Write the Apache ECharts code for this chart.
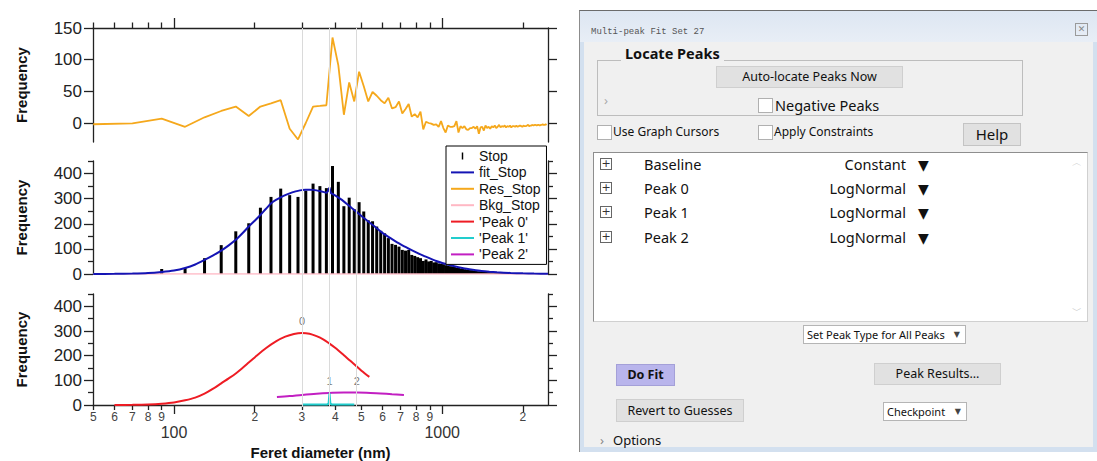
<!DOCTYPE html>
<html lang="en">
<head>
<meta charset="UTF-8">
<title>Multi-peak Fit Set 27</title>
<script src="https://cdn.jsdelivr.net/npm/echarts@6.0.0/dist/echarts.min.js"></script>
<style>
body{margin:0;background:#fff;width:1097px;height:461px;overflow:hidden;position:relative;font-family:"Noto Sans",sans-serif;color:#111;}
#main{position:absolute;left:0;top:0;width:578px;height:461px;}
.a{position:absolute;white-space:nowrap;}
.btn{position:absolute;white-space:nowrap;background:#e1e1e1;border:1px solid #cfcfcf;box-sizing:border-box;text-align:center;font-size:12.5px;}
.chk{position:absolute;width:15px;height:15px;background:#fff;border:1px solid #b0b0b0;box-sizing:border-box;}
.pop{position:absolute;white-space:nowrap;background:#fff;border:1px solid #b5b5b5;box-sizing:border-box;font-size:11px;padding-left:3px;}
.pop span{position:absolute;right:5px;top:0;font:8px/17px "DejaVu Sans",sans-serif;color:#444;}
.plus{position:absolute;width:12px;height:12px;border:1px solid #666;box-sizing:border-box;font:11px/9px "DejaVu Sans",sans-serif;text-align:center;color:#333;}
.row{position:absolute;font-size:14.5px;line-height:20px;white-space:nowrap;}
.tri{position:absolute;font:14px/20px "DejaVu Sans",sans-serif;}
</style>
</head>
<body>
<div id="main"></div>

<!-- dialog -->
<div class="a" style="left:579px;top:10px;width:518px;height:442px;background:#d3e0ef;border-top:1px solid #6b6b6b;border-left:1px solid #8c8c8c;box-sizing:border-box;"></div>
<div class="a" style="left:580px;top:11px;width:517px;height:31px;background:linear-gradient(#dde6f2,#e8eef6);"></div>
<div class="a" style="left:584px;top:42px;width:509px;height:405px;background:#f0f0f0;"></div>
<div class="a" style="left:591px;top:27px;font:9px/10px 'Liberation Mono',monospace;color:#555;">Multi-peak Fit Set 27</div>
<div class="a" style="left:1075px;top:23px;width:13px;height:13px;border:1px solid #9a9a9a;box-sizing:border-box;font:9px/11px 'DejaVu Sans',sans-serif;text-align:center;color:#888;">✕</div>

<div class="a" style="left:597px;top:60px;width:426px;height:56px;border:1px solid #bdbdbd;box-sizing:border-box;"></div>
<div class="a" style="left:621px;top:43px;padding:0 4px;background:#f0f0f0;font-weight:bold;font-size:14.5px;line-height:20px;">Locate Peaks</div>
<div class="btn" style="left:716px;top:66px;width:187px;height:22px;line-height:20px;">Auto-locate Peaks Now</div>
<div class="a" style="left:604px;top:92px;font-size:13px;line-height:16px;color:#aaa;">›</div>
<div class="chk" style="left:758px;top:98px;"></div>
<div class="a" style="left:775px;top:95px;font-size:14.5px;line-height:20px;">Negative Peaks</div>

<div class="chk" style="left:597px;top:125px;"></div>
<div class="a" style="left:613px;top:123px;font-size:12px;line-height:18px;">Use Graph Cursors</div>
<div class="chk" style="left:758px;top:125px;"></div>
<div class="a" style="left:774px;top:123px;font-size:12px;line-height:18px;">Apply Constraints</div>
<div class="btn" style="left:963px;top:123px;width:58px;height:23px;line-height:21px;font-size:15px;border-color:#c4c4c4;">Help</div>

<div class="a" style="left:593px;top:152px;width:495px;height:170px;background:#fff;border:1px solid #8e8e8e;border-right-color:#d0d0d0;border-bottom-color:#d0d0d0;box-sizing:border-box;"></div>
<div class="a" style="left:1072px;top:157px;font:10px/12px 'DejaVu Sans',sans-serif;color:#c8c8c8;">︿</div>
<div class="a" style="left:1072px;top:305px;font:10px/12px 'DejaVu Sans',sans-serif;color:#c8c8c8;">﹀</div>

<div class="plus" style="left:600px;top:158px;">+</div>
<div class="row" style="left:644px;top:154px;">Baseline</div>
<div class="row" style="left:760px;top:154px;width:146px;text-align:right;">Constant</div>
<div class="tri" style="left:918px;top:155px;">▼</div>
<div class="plus" style="left:600px;top:182px;">+</div>
<div class="row" style="left:644px;top:178px;">Peak 0</div>
<div class="row" style="left:760px;top:178px;width:146px;text-align:right;">LogNormal</div>
<div class="tri" style="left:918px;top:179px;">▼</div>
<div class="plus" style="left:600px;top:206px;">+</div>
<div class="row" style="left:644px;top:202px;">Peak 1</div>
<div class="row" style="left:760px;top:202px;width:146px;text-align:right;">LogNormal</div>
<div class="tri" style="left:918px;top:203px;">▼</div>
<div class="plus" style="left:600px;top:231px;">+</div>
<div class="row" style="left:644px;top:227px;">Peak 2</div>
<div class="row" style="left:760px;top:227px;width:146px;text-align:right;">LogNormal</div>
<div class="tri" style="left:918px;top:228px;">▼</div>

<div class="pop" style="left:803px;top:325px;width:163px;height:19px;line-height:17px;">Set Peak Type for All Peaks<span>▼</span></div>
<div class="btn" style="left:616px;top:364px;width:59px;height:22px;line-height:20px;background:#b9b5ec;border-color:#a4a0d8;font-weight:bold;">Do Fit</div>
<div class="btn" style="left:874px;top:363px;width:127px;height:22px;line-height:20px;">Peak Results...</div>
<div class="btn" style="left:616px;top:399px;width:128px;height:23px;line-height:21px;">Revert to Guesses</div>
<div class="pop" style="left:883px;top:402px;width:84px;height:19px;line-height:17px;">Checkpoint<span>▼</span></div>
<div class="a" style="left:600px;top:431px;font-size:13px;line-height:18px;color:#888;">›</div>
<div class="a" style="left:613px;top:431px;font-size:13px;line-height:18px;">Options</div>

<script type="text/javascript">
// feret diameter bins (nm) and counts
var diameter = [50,70,90,110,130,150,170,190,210,230,250,270,290,310,330,350,370,390,410,430,
  450,470,490,510,530,550,570,590,610,630,650,670,690,710,730,750,770,790,810,830,
  850,870,890,910,930,950,970,990,1010,1030,1050,1070,1090,1110,1130,1150,1170,1190,1210,1230,
  1250,1270,1290,1310,1330,1350,1370,1390,1410,1430,1450,1470,1490,1510,1530,1550,1570,1590,1610,1630,
  1650,1670,1690,1710,1730,1750,1770,1790,1810,1830,1850,1870,1890,1910,1930,1950,1970,1990,2010,2030,
  2050,2070,2090,2110,2130,2150,2170,2190,2210,2230,2250,2270,2290,2310,2330,2350,2370,2390,2410,2430,2450];
var stopCounts = [0,0,20,24,63,115,170,202,264,307,
  340,314,307,332,360,350,342,430,367,270,
  304,258,286,249,214,210,189,172,162,143,
  120,116,109,96,93,96,76,72,67,63,
  52,58,50,52,46,47,42,40,39,35,
  34,31,30,28,25,24,22,21,19,18,
  16,15,15,13,12,11,10,10,9,8,
  8,7,7,6,6,6,5,5,4,5,
  4,4,3,3,3,3,2,3,2,2,
  2,2,1,2,1,1,1,1,1,1,
  1,0,1,0,1,0,1,0,0,1,
  0,0,0,1,0,0,0,0,0,0,0];
var resStop = [-2,-0.5,7,-6,9,19,26,11,26,31,
  36,-9,-26,0,26,27,28,135,91,13,
  64,34,81,58,34,49,43,36,31,40,
  23,25,34,15,22,30,10,14,9,18,
  -10,2,0,-1,-3,-2,-6,3,-8,-15,
  -4,-6,-6,-5,3,-15,-5,-8,-5,-10,
  -11,-8,-8,-6,-9,-5,-17,-7,-6,-12,
  -4,-8,-6,-9,-5,-7,-4,-8,-6,-3,
  -7,-5,-6,-4,-7,-5,-6,-4,-7,-5,
  -5,-6,-4,-6,-5,-4,-5,-6,-4,-5,
  -5,-4,-3,-5,-4,-4,-3,-4,-3,-3,
  -4,-3,-3,-4,-3,-3,-2,-3,-3,-2,-3];

var fitX = [50,60,70,80,90,100,110,120,130,140,150,160,170,180,190,200,210,220,230,240,
  250,260,270,280,290,300,310,320,330,340,350,360,370,375,378,380,382,385,390,
  400,420,440,460,480,500,530,560,600,650,700,750,800,850,900,950,1000,
  1100,1200,1300,1400,1500,1600,1800,2000,2200,2480];
var fitY = [0,0.5,1.5,3.5,8,14,24,38,56,74,93,114,136,162,189,212,235,259,281,295,
  305,314,321,327,331,334,336,336,335,333,330,327,324,330,338,344,333,322,319,
  312,297,280,263,247,231,209,189,163,139,118,101,86,73,62,52,44,
  32,23,17,12,9,7,4,2.5,1.5,1];

var peak0X = [60,70,80,90,100,110,120,130,140,150,160,170,180,190,200,220,240,260,280,300,
  320,340,360,380,400,430,460,500,535];
var peak0Y = [0.2,0.7,2,5,10,19,30,46,66,88,108,128,150,172,193,230,258,277,288,292,
  289,279,266,249,231,202,174,139,114];
var peak1X = [300,372,377,380,383,388,470];
var peak1Y = [2,2,5,48,5,2,2];
var peak2X = [242,270,300,340,380,430,483,540,590,650,720];
var peak2Y = [32,36,41,46,49,51,51,49,47,44,41];

var peakPos = [300, 380, 480];
var peakTagY = [292, 49, 51];
var peakTags = ['0', '1', '2'];

var xMinor = [50,60,70,80,90,300,400,500,600,700,800,900];
var xMajor = [100,1000];
var xMid = [200,2000];
var xSmallLabels = [50,60,70,80,90,200,300,400,500,600,700,800,900,2000];
var resTicks = [0,50,100,150];
var freqTicks = [0,100,200,300,400];
var freqMinor = [50,150,250,350,450];

var xMin = 49.9, xMax = 2480;
var font = 'Liberation Sans';

function zip(xs, ys){
	return xs.map(function(x, i){ return [x, ys[i]]; });
}

var myChart = echarts.init(document.getElementById('main'), null, {renderer: 'svg'});

var lineCol = '#222';
var axLine = {show: true, onZero: false, lineStyle: {color: lineCol, width: 1.3}};
var noLine = {show: false, onZero: false};
function xAx(grid, pos, ticks, len, extra){
	var o = {
		type: 'log', gridIndex: grid, position: pos, min: xMin, max: xMax, logBase: 10,
		axisLine: noLine,
		axisTick: {show: !!ticks, customValues: ticks || [], length: len, lineStyle: {color: lineCol, width: 1.3}},
		axisLabel: {show: false},
		splitLine: {show: false}, minorTick: {show: false}, minorSplitLine: {show: false}
	};
	return Object.assign(o, extra || {});
}
function yAx(grid, pos, min, max, ticks, len, extra){
	var o = {
		type: 'value', gridIndex: grid, position: pos, min: min, max: max,
		axisLine: noLine,
		axisTick: {show: true, customValues: ticks, length: len, lineStyle: {color: lineCol, width: 1.3}},
		axisLabel: {show: false},
		splitLine: {show: false}
	};
	return Object.assign(o, extra || {});
}
var yLab = {show: true, customValues: null, margin: 11, fontSize: 17, color: '#222', fontFamily: font};
function leftMain(grid, min, max, ticks){
	return yAx(grid, 'left', min, max, ticks, 9, {
		axisLine: axLine,
		axisLabel: Object.assign({}, yLab, {customValues: ticks}),
		name: 'Frequency', nameLocation: 'middle', nameGap: 64, nameRotate: 90,
		nameTextStyle: {fontFamily: font, fontWeight: 'bold', fontSize: 15, color: '#111'}
	});
}
function rightMain(grid, min, max, ticks){
	return yAx(grid, 'right', min, max, ticks, 9, {axisLine: axLine});
}

var option = {
	animation: false,
	textStyle: {fontFamily: font},
	grid: [
		{left: 93, top: 28, width: 455, height: 114},
		{left: 93, top: 161, width: 455, height: 113},
		{left: 93, top: 294, width: 455, height: 113},
		{left: 93, top: 28, width: 455, height: 379}
	],
	legend: {
		orient: 'vertical', left: 446, top: 146,
		padding: [3, 6, 3, 5], itemGap: 2.4, itemWidth: 23, itemHeight: 13,
		borderColor: '#000', borderWidth: 1, backgroundColor: '#fff',
		textStyle: {fontFamily: font, fontSize: 14, color: '#111'},
		selectedMode: false,
		data: [
			{name: 'Stop', icon: 'path://M0,0h0.01v0.01zM0,2h1v5h-1zM0,9h0.01v0.01z'},
			{name: 'fit_Stop', icon: 'path://M0,0h23v2h-23z'},
			{name: 'Res_Stop', icon: 'path://M0,0h23v2h-23z'},
			{name: 'Bkg_Stop', icon: 'path://M0,0h23v2h-23z'},
			{name: "'Peak 0'", icon: 'path://M0,0h23v2h-23z'},
			{name: "'Peak 1'", icon: 'path://M0,0h23v2h-23z'},
			{name: "'Peak 2'", icon: 'path://M0,0h23v2h-23z'}
		]
	},
	xAxis: [
		xAx(0, 'top', xMinor.concat(xMid), 5.5, {axisLine: axLine}),
		xAx(0, 'top', xMajor, 10),
		xAx(1, 'bottom', null, 0, {show: false}),
		xAx(2, 'bottom', xMinor, 5, {
			axisLine: axLine,
			axisLabel: {show: true, customValues: xSmallLabels, margin: 6, fontSize: 12, color: '#444', fontFamily: font,
				formatter: function(v){ return String(Math.round(v)).charAt(0); }},
			name: 'Feret diameter (nm)', nameLocation: 'middle', nameGap: 40,
			nameTextStyle: {fontFamily: font, fontWeight: 'bold', fontSize: 15, color: '#111'}
		}),
		xAx(2, 'bottom', xMajor, 9, {
			axisLabel: {show: true, customValues: xMajor, margin: 19, fontSize: 16, color: '#333', fontFamily: font,
				formatter: function(v){ return String(Math.round(v)); }}
		}),
		xAx(2, 'bottom', xMid, 7),
		xAx(3, 'bottom', null, 0, {show: false})
	],
	yAxis: [
		leftMain(0, -30, 150, resTicks),
		rightMain(0, -30, 150, resTicks),
		leftMain(1, 0, 450, freqTicks),
		yAx(1, 'left', 0, 450, freqMinor, 5),
		rightMain(1, 0, 450, freqTicks),
		yAx(1, 'right', 0, 450, freqMinor, 5),
		leftMain(2, 0, 450, freqTicks),
		yAx(2, 'left', 0, 450, freqMinor, 5),
		rightMain(2, 0, 450, freqTicks),
		yAx(2, 'right', 0, 450, freqMinor, 5),
		{type: 'value', gridIndex: 3, min: 0, max: 1, show: false}
	],
	series: [
		{
			name: 'guides', type: 'line', xAxisIndex: 6, yAxisIndex: 10, data: [], z: 0,
			markLine: {
				silent: true, symbol: ['none', 'none'], label: {show: false},
				lineStyle: {color: '#dadada', width: 1, type: 'solid'},
				data: peakPos.map(function(p){ return {xAxis: p}; })
			}
		},
		{
			name: 'Res_Stop', type: 'line', xAxisIndex: 0, yAxisIndex: 0,
			data: zip(diameter, resStop), showSymbol: false, color: '#f5a81c',
			lineStyle: {width: 1.8, color: '#f5a81c'}
		},
		{
			name: 'Bkg_Stop', type: 'line', xAxisIndex: 2, yAxisIndex: 2,
			data: [[xMin, 0], [xMax, 0]], showSymbol: false, color: '#ffb8c4',
			lineStyle: {width: 1.5, color: '#ffb8c4'}
		},
		{
			name: 'Stop', type: 'custom', xAxisIndex: 2, yAxisIndex: 2,
			data: zip(diameter, stopCounts), itemStyle: {color: '#000'},
			encode: {x: 0, y: 1},
			renderItem: function(params, api){
				var top = api.coord([api.value(0), api.value(1)]);
				var base = api.coord([api.value(0), 0]);
				return {type: 'line', shape: {x1: top[0], y1: top[1], x2: base[0], y2: base[1]},
					style: {stroke: '#000', lineWidth: 3}};
			}
		},
		{
			name: 'fit_Stop', type: 'line', xAxisIndex: 2, yAxisIndex: 2,
			data: zip(fitX, fitY), showSymbol: false, color: '#1414b4', smooth: 0.2,
			lineStyle: {width: 2, color: '#1414b4'}
		},
		{
			name: "'Peak 0'", type: 'line', xAxisIndex: 3, yAxisIndex: 6,
			data: zip(peak0X, peak0Y), showSymbol: false, color: '#ee1c24', smooth: 0.3,
			lineStyle: {width: 2, color: '#ee1c24'}
		},
		{
			name: "'Peak 2'", type: 'line', xAxisIndex: 3, yAxisIndex: 6,
			data: zip(peak2X, peak2Y), showSymbol: false, color: '#c21fc2', smooth: 0.35,
			lineStyle: {width: 2, color: '#c21fc2'}
		},
		{
			name: "'Peak 1'", type: 'line', xAxisIndex: 3, yAxisIndex: 6,
			data: zip(peak1X, peak1Y), showSymbol: false, color: '#22cdcd',
			lineStyle: {width: 2, color: '#22cdcd'}
		},
		{
			name: 'tags', type: 'scatter', xAxisIndex: 3, yAxisIndex: 6,
			data: peakPos.map(function(p, i){ return [p, peakTagY[i], peakTags[i]]; }),
			symbolSize: 0.1, itemStyle: {color: 'rgba(0,0,0,0)'},
			label: {show: true, position: 'top', distance: 6, fontSize: 11, color: '#555', fontFamily: font,
				formatter: function(p){ return p.value[2]; }}
		}
	]
};
myChart.setOption(option);
</script>
</body>
</html>
